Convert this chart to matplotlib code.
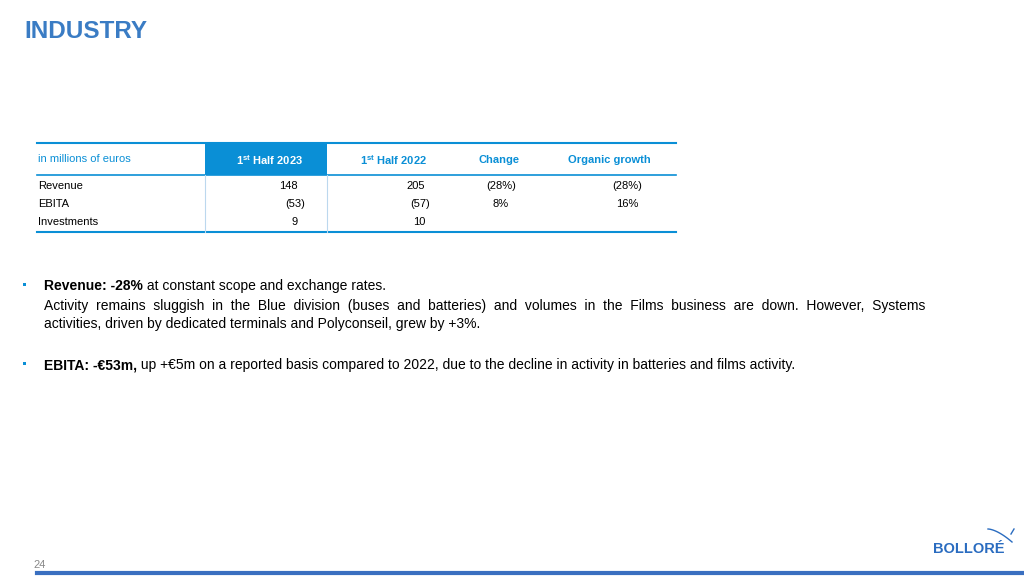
import matplotlib
matplotlib.use("Agg")
import matplotlib.pyplot as plt
import numpy as np

plt.rcParams['font.family'] = ['Liberation Sans', 'DejaVu Sans']
plt.rcParams['mathtext.fontset'] = 'custom'
plt.rcParams['mathtext.rm'] = 'Liberation Sans'
plt.rcParams['mathtext.bf'] = 'Liberation Sans:bold'

rows = ["Revenue", "EBITA", "Investments"]
h2023 = ["148", "(53)", "9"]
h2022 = ["205", "(57)", "10"]
change = ["(28%)", "8%", ""]
organic = ["(28%)", "16%", ""]
headers = ["1$^{\\mathbf{st}}$ Half 2023", "1$^{\\mathbf{st}}$ Half 2022", "Change", "Organic growth"]

BLUE = "#0a8fd6"
TITLE = "#3a7cc4"

fig = plt.figure(figsize=(10.24, 5.76), dpi=100)
ax = fig.add_axes([0, 0, 1, 1])
ax.set_xlim(0, 1024); ax.set_ylim(576, 0); ax.axis("off")
renderer = fig.canvas.get_renderer()

def seq(x, y, parts, fs):
    for txt, bold in parts:
        t = ax.text(x, y, txt, fontsize=fs, va="center", fontweight="bold" if bold else "normal")
        bb = t.get_window_extent(renderer)
        x += bb.width

ax.text(24, 32, "INDUSTRY", color=TITLE, fontsize=17.5, fontweight="bold", va="center")

# table
ax.add_patch(plt.Rectangle((205, 143), 122, 32, color=BLUE, lw=0))
ax.plot([37, 676], [143, 143], color=BLUE, lw=1.5)
ax.plot([37, 676], [175, 175], color=BLUE, lw=1.2)
ax.plot([37, 676], [232, 232], color=BLUE, lw=1.5)
for x in (205, 327):
    ax.plot([x, x], [175, 232], color="#bcd8ee", lw=0.8)
tfs = 8
ax.text(38, 159, "in millions of euros", color=BLUE, fontsize=tfs, va="center")
hx = [270, 394, 499, 609]
for i, h in enumerate(headers):
    ax.text(hx[i], 160, h, color="white" if i == 0 else BLUE, fontsize=tfs,
            fontweight="bold", ha="center", va="center")
ys = [186, 204, 222]
for i, r in enumerate(rows):
    y = ys[i]
    ax.text(38, y, r, fontsize=tfs, va="center")
    off1 = 7 if h2023[i].startswith("(") else 0
    off2 = 5 if h2022[i].startswith("(") else 0
    ax.text(298 + off1, y, h2023[i], fontsize=tfs, va="center", ha="right")
    ax.text(425 + off2, y, h2022[i], fontsize=tfs, va="center", ha="right")
    ax.text(501, y, change[i], fontsize=tfs, va="center", ha="center")
    ax.text(627, y, organic[i], fontsize=tfs, va="center", ha="center")

# bullets
fs = 10
ax.add_patch(plt.Rectangle((23, 283), 3, 3, color=BLUE, lw=0))
seq(44, 286, [("Revenue: -28%", True), (" at constant scope and exchange rates.", False)], fs)
ax.text(44, 306, "Activity  remains  sluggish  in  the  Blue  division  (buses  and  batteries)  and  volumes  in  the  Films  business  are  down.  However,  Systems",
        fontsize=fs, va="center")
ax.text(44, 324, "activities, driven by dedicated terminals and Polyconseil, grew by +3%.", fontsize=fs, va="center")
ax.add_patch(plt.Rectangle((23, 362), 3, 3, color=BLUE, lw=0))
seq(44, 365, [("EBITA: -€53m,", True),
              (" up +€5m on a reported basis compared to 2022, due to the decline in activity in batteries and films activity.", False)], fs)

# footer
ax.plot([37, 1024], [573, 573], color="#3a6fc0", lw=3)
ax.text(33, 565, "24", color="#888888", fontsize=8, va="center")
ax.text(933, 549, "BOLLORÉ", color="#2a6cc0", fontsize=10.5, fontweight="bold", va="center")
t = np.linspace(0, 1, 30)
ax.plot(988 + 24 * t, 529 + 13 * t ** 1.6, color="#2a6cc0", lw=1)
ax.plot([1011, 1014], [534, 529], color="#2a6cc0", lw=1)

fig.savefig("out.png", dpi=100)
